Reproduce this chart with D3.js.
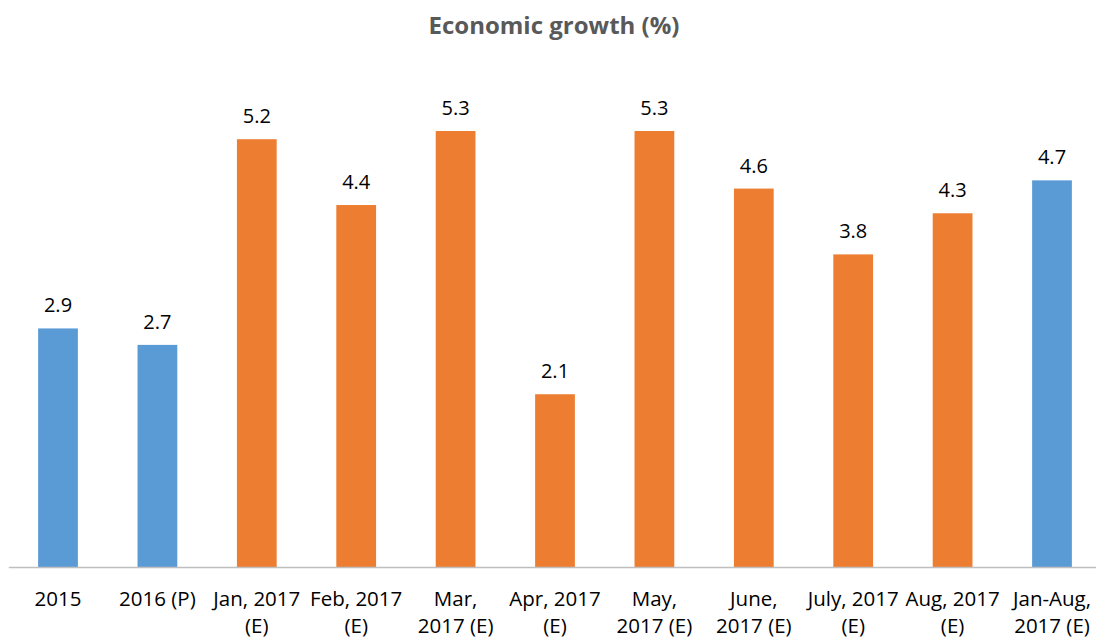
<!DOCTYPE html>
<html>
<head>
<meta charset="utf-8">
<script src="https://cdn.jsdelivr.net/npm/d3@7"></script>
<style>
  body { margin: 0; background: #fff; }
  text { font-family: "Open Sans", "Liberation Sans", sans-serif; }
</style>
</head>
<body>
<div id="chart"></div>
<script>
const width = 1096, height = 639;

// data
const categories = ["2015", "2016 (P)", "Jan, 2017\n(E)", "Feb, 2017\n(E)", "Mar,\n2017 (E)", "Apr, 2017\n(E)",
    "May,\n2017 (E)", "June,\n2017 (E)", "July, 2017\n(E)", "Aug, 2017\n(E)", "Jan-Aug,\n2017 (E)"];
const growth = [2.9, 2.7, 5.2, 4.4, 5.3, 2.1, 5.3, 4.6, 3.8, 4.3, 4.7];
const kinds = ["year", "year", "month", "month", "month", "month", "month", "month", "month", "month", "year"];

const color = d3.scaleOrdinal().domain(["year", "month"]).range(["#5B9BD5", "#ED7D31"]);

const data = categories.map((c, i) => ({ cat: c, value: growth[i], kind: kinds[i] }));

var x = d3.scaleBand()
    .domain(categories)
    .range([8.3, 1101.7])
    .paddingInner(0.6)
    .paddingOuter(0.3);

var y = d3.scaleLinear()
    .domain([0, 5.3])
    .range([567, 131]);

const svg = d3.select("#chart").append("svg")
    .attr("width", width)
    .attr("height", height);

svg.append("text")
    .attr("x", 554)
    .attr("y", 34)
    .attr("text-anchor", "middle")
    .attr("font-size", 24)
    .attr("font-weight", "bold")
    .attr("fill", "#595959")
    .text("Economic growth (%)");

// bars
svg.append("g")
    .selectAll("rect")
    .data(data)
    .enter().append("rect")
    .attr("x", d => x(d.cat))
    .attr("width", x.bandwidth())
    .attr("y", d => y(d.value))
    .attr("height", d => y(0) - y(d.value))
    .attr("fill", d => color(d.kind));

// value labels
svg.append("g")
    .selectAll("text")
    .data(data)
    .enter().append("text")
    .attr("x", d => x(d.cat) + x.bandwidth() / 2)
    .attr("y", d => y(d.value) - 16)
    .attr("text-anchor", "middle")
    .attr("font-size", 20)
    .attr("fill", "#000")
    .text(d => d.value.toFixed(1));

// x axis
const xAxis = svg.append("g")
    .attr("transform", `translate(0,${y(0)})`)
    .call(d3.axisBottom(x).tickSize(0).tickFormat(""));

xAxis.select(".domain").attr("stroke", "#BFBFBF").attr("stroke-width", 1.5);

xAxis.selectAll(".tick").append("text")
    .attr("fill", "#000")
    .attr("font-size", 20.5)
    .attr("text-anchor", "middle")
    .each(function (d) {
        const lines = d.split("\n");
        d3.select(this).selectAll("tspan")
            .data(lines)
            .enter().append("tspan")
            .attr("x", 0)
            .attr("y", (l, i) => 39 + i * 27)
            .text(l => l);
    });
</script>
</body>
</html>
